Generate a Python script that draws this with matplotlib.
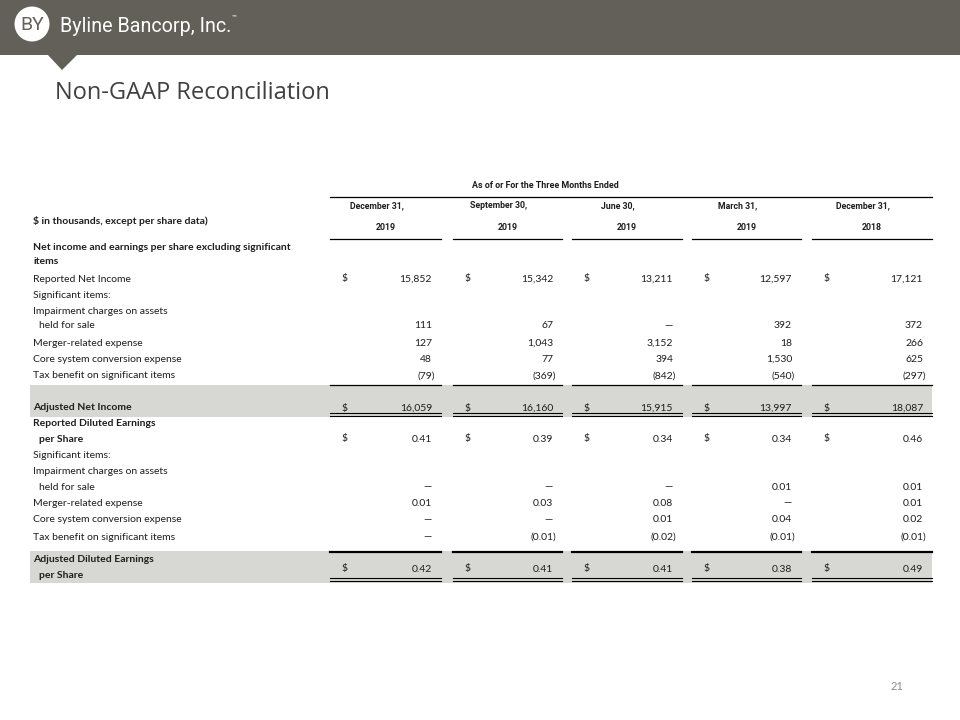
import matplotlib.pyplot as plt
from matplotlib.patches import Circle, Polygon, Rectangle

plt.rcParams['font.family'] = ['Lato', 'DejaVu Sans']

# table data ($ in thousands, except per share data); None = dash
periods_top = ['December 31,', 'September 30,', 'June 30,', 'March 31,', 'December 31,']
periods_year = ['2019', '2019', '2019', '2019', '2018']

reported_net_income = [15852, 15342, 13211, 12597, 17121]
impairment = [111, 67, None, 392, 372]
merger_expense = [127, 1043, 3152, 18, 266]
core_conversion = [48, 77, 394, 1530, 625]
tax_benefit = [-79, -369, -842, -540, -297]
adjusted_net_income = [16059, 16160, 15915, 13997, 18087]

reported_eps = [0.41, 0.39, 0.34, 0.34, 0.46]
eps_impairment = [None, None, None, 0.01, 0.01]
eps_merger = [0.01, 0.03, 0.08, None, 0.01]
eps_core = [None, None, 0.01, 0.04, 0.02]
eps_tax = [None, -0.01, -0.02, -0.01, -0.01]
adjusted_eps = [0.42, 0.41, 0.41, 0.38, 0.49]

HEADER = '#635f59'
TEXT = '#1e1e1e'
BAND = '#d7d7d3'
FS = 7.5
narrow = ['Liberation Sans Narrow', 'Roboto', 'DejaVu Sans']

fig = plt.figure(figsize=(9.6, 7.2), dpi=100)
ax = fig.add_axes([0, 0, 1, 1])
ax.set_xlim(0, 960)
ax.set_ylim(720, 0)
ax.axis('off')

# header bar with logo
ax.add_patch(Rectangle((0, 0), 960, 55, color=HEADER, lw=0))
ax.add_patch(Polygon([(47, 54), (78, 54), (62, 70)], closed=True, color=HEADER, lw=0))
ax.add_patch(Circle((32, 24), 17.5, color='white', lw=0))
ax.text(32, 25, 'BY', color=HEADER, fontsize=14, ha='center', va='center',
        family=narrow)
ax.text(60, 26, 'Byline Bancorp, Inc.', color='white', fontsize=14.2, ha='left',
        va='center', family=['Roboto', 'DejaVu Sans'])
ax.text(232, 17, '\u2122', color='white', fontsize=4.5, ha='left', va='center')

ax.text(55, 93, 'Non-GAAP Reconciliation', color='#404040', fontsize=17,
        ha='left', va='center', family=['Open Sans', 'DejaVu Sans'])

# column geometry
seg = [(330, 441), (453, 562), (572, 682), (692, 801), (812, 932)]
centers = [(a + b) / 2 for a, b in seg]
dollar_x = [a + 12 for a, b in seg]
right_x = [b - 9 for a, b in seg]

ax.text(545, 186, 'As of or For the Three Months Ended', fontsize=6.4,
        ha='center', va='center', color=TEXT, family=narrow, fontweight='bold')
ax.plot([330, 932], [197, 197], color='black', lw=0.9)
for i, (a, b) in enumerate(seg):
    ax.text(centers[i] - 9, 206, periods_top[i], fontsize=6.3, ha='center',
            va='center', color=TEXT, family=narrow, fontweight='bold')
    ax.text(centers[i], 227, periods_year[i], fontsize=6.3, ha='center',
            va='center', color=TEXT, family=narrow, fontweight='bold')
    ax.plot([a, b], [239, 239], color='black', lw=0.9)

ax.text(33, 221, '$ in thousands, except per share data)', fontsize=FS,
        fontweight='bold', ha='left', va='center', color=TEXT)


def fmt(v, eps):
    if v is None:
        return '\u2014'
    s = f'{abs(v):.2f}' if eps else f'{abs(v):,}'
    return f'({s})' if v < 0 else s


def value_row(y, vals, eps, dollar=False, bold=False):
    for i, v in enumerate(vals):
        x = right_x[i] + (3 if (v is not None and v < 0) else 0)
        ax.text(x, y, fmt(v, eps), fontsize=FS, ha='right', va='center',
                color=TEXT, fontweight='bold' if bold else 'normal')
        if dollar:
            ax.text(dollar_x[i], y, '$', fontsize=FS, ha='left', va='center',
                    color=TEXT)


def label(y, s, bold=False, indent=0):
    ax.text(33 + indent, y, s, fontsize=FS, ha='left', va='center', color=TEXT,
            fontweight='bold' if bold else 'normal')


# bands
ax.add_patch(Rectangle((30, 385), 902, 32, color=BAND, lw=0, zorder=0))
ax.add_patch(Rectangle((30, 551), 902, 32, color=BAND, lw=0, zorder=0))

# net income section
label(247, 'Net income and earnings per share excluding significant', bold=True)
label(262, 'items', bold=True)
label(279, 'Reported Net Income')
value_row(279, reported_net_income, False, dollar=True)
label(295, 'Significant items:')
label(311, 'Impairment charges on assets')
label(326, 'held for sale', indent=6)
value_row(326, impairment, False)
label(343, 'Merger-related expense')
value_row(343, merger_expense, False)
label(359, 'Core system conversion expense')
value_row(359, core_conversion, False)
label(376, 'Tax benefit on significant items')
value_row(376, tax_benefit, False)
label(408, 'Adjusted Net Income', bold=True)
value_row(408, adjusted_net_income, False, dollar=True)
for a, b in seg:
    ax.plot([a, b], [385, 385], color='black', lw=0.9)
    ax.plot([a, b], [412.5, 412.5], color='black', lw=0.8)
    ax.plot([a, b], [415.5, 415.5], color='black', lw=0.8)

# per share section
label(424, 'Reported Diluted Earnings', bold=True)
label(439, 'per Share', bold=True, indent=6)
value_row(439, reported_eps, True, dollar=True)
label(455, 'Significant items:')
label(471, 'Impairment charges on assets')
label(487, 'held for sale', indent=6)
value_row(487, eps_impairment, True)
label(503, 'Merger-related expense')
value_row(503, eps_merger, True)
label(520, 'Core system conversion expense')
value_row(520, eps_core, True)
label(537, 'Tax benefit on significant items')
value_row(537, eps_tax, True)
label(560, 'Adjusted Diluted Earnings', bold=True)
label(575, 'per Share', bold=True, indent=6)
value_row(569, adjusted_eps, True, dollar=True)
for a, b in seg:
    ax.plot([a, b], [551.5, 551.5], color='black', lw=1.6)
    ax.plot([a, b], [577.5, 577.5], color='black', lw=0.8)
    ax.plot([a, b], [580.5, 580.5], color='black', lw=0.8)

ax.text(897, 687, '21', fontsize=8, color='#8c8c8c', ha='center', va='center')

fig.savefig('out.png', dpi=100)
